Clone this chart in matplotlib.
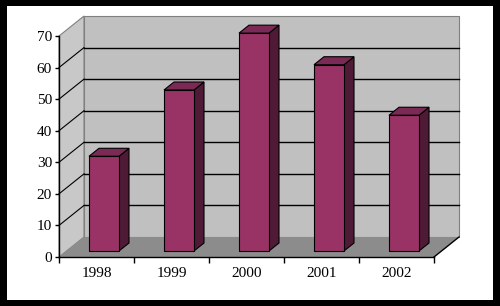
# -*- coding: utf-8 -*-
## 3D風の棒グラフ (Excel調)
from matplotlib import pyplot as plt
from matplotlib.patches import Polygon, Rectangle
import numpy as np

years = ["1998", "1999", "2000", "2001", "2002"]
values = [30, 51, 69, 59, 43]
yticks = [0, 10, 20, 30, 40, 50, 60, 70]

FRONT = "#993366"
TOP = "#7a2a55"
SIDE = "#4f1a35"

# depth offset in data units (category units / value units)
DX = 25 / 75.0
DY = 20 / 3.157
W = 0.4          # bar width (category units)
D0, D1 = 0.3, 0.7  # bar depth range


def P(x, y, d):
    return (x + d * DX, y + d * DY)


def poly(ax, pts, fc, ec="none", lw=0.8, z=1):
    ax.add_patch(Polygon(pts, closed=True, facecolor=fc, edgecolor=ec,
                         linewidth=lw, zorder=z, clip_on=False))


fig = plt.figure(figsize=(5.0, 3.06), dpi=100, facecolor="black")
fig.patches.append(Rectangle((7 / 500, 6 / 306), 486 / 500, 294 / 306,
                             transform=fig.transFigure, facecolor="white",
                             edgecolor="none", zorder=-10))

ax = fig.add_axes([59 / 500, (306 - 257) / 306, 375 / 500, 221 / 306])
ax.set_xlim(0, len(years))
ax.set_ylim(0, 70)
ax.patch.set_visible(False)
for s in ax.spines.values():
    s.set_visible(False)

n = len(years)
top = yticks[-1]

# walls and floor
poly(ax, [P(0, 0, 1), P(n, 0, 1), P(n, top, 1), P(0, top, 1)], "#c0c0c0", "#808080", z=1)
poly(ax, [P(0, 0, 0), P(0, 0, 1), P(0, top, 1), P(0, top, 0)], "#c8c8c8", "#808080", z=1)
poly(ax, [P(0, 0, 0), P(n, 0, 0), P(n, 0, 1), P(0, 0, 1)], "#8c8c8c", "none", z=1)

# gridlines
for v in yticks[1:-1]:
    xs, ys = zip(P(0, v, 1), P(n, v, 1))
    ax.plot(xs, ys, color="black", lw=1.0, zorder=2, clip_on=False)
    xs, ys = zip(P(0, v, 0), P(0, v, 1))
    ax.plot(xs, ys, color="black", lw=0.8, zorder=2, clip_on=False)

# floor right edge
xs, ys = zip(P(n, 0, 0), P(n, 0, 1))
ax.plot(xs, ys, color="black", lw=1.0, zorder=2, clip_on=False)

# bars
for i, v in enumerate(values):
    x0 = i + (1 - W) / 2
    x1 = x0 + W
    poly(ax, [P(x1, 0, D0), P(x1, 0, D1), P(x1, v, D1), P(x1, v, D0)], SIDE, "black", z=3)
    poly(ax, [P(x0, v, D0), P(x1, v, D0), P(x1, v, D1), P(x0, v, D1)], TOP, "black", z=3)
    poly(ax, [P(x0, 0, D0), P(x1, 0, D0), P(x1, v, D0), P(x0, v, D0)], FRONT, "black", z=4)

# axes lines
ax.plot([0, 0], [0, top], color="black", lw=1.0, zorder=5, clip_on=False)
ax.plot([0, n], [0, 0], color="black", lw=1.0, zorder=5, clip_on=False)

ax.set_yticks(yticks)
ax.set_yticklabels([str(t) for t in yticks], family="Liberation Serif", fontsize=11)
ax.tick_params(axis="y", length=3, width=1, pad=2, color="black")
ax.set_xticks(np.arange(n + 1))
ax.set_xticklabels([""] * (n + 1))
ax.tick_params(axis="x", which="major", length=4, width=1, color="black")
ax.set_xticks(np.arange(n) + 0.5, minor=True)
ax.set_xticklabels(years, minor=True, family="Liberation Serif", fontsize=11)
ax.tick_params(axis="x", which="minor", length=0, pad=7)

plt.savefig("out.png", dpi=100, facecolor="black")
